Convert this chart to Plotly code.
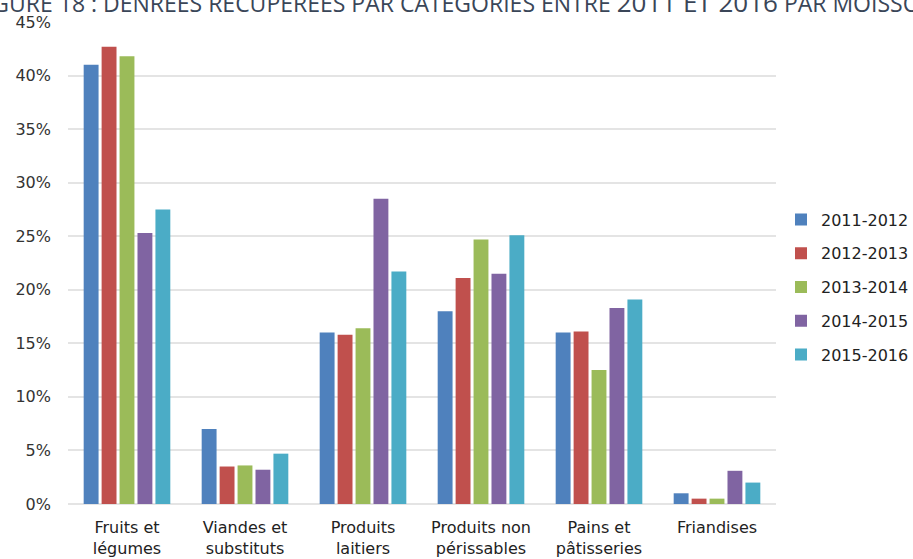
import plotly.graph_objects as go

categories = ["Fruits et<br>légumes", "Viandes et<br>substituts", "Produits<br>laitiers",
              "Produits non<br>périssables", "Pains et<br>pâtisseries", "Friandises"]
series_names = ["2011-2012", "2012-2013", "2013-2014", "2014-2015", "2015-2016"]
v_2011_2012 = [41.0, 7.0, 16.0, 18.0, 16.0, 1.0]
v_2012_2013 = [42.7, 3.5, 15.8, 21.1, 16.1, 0.5]
v_2013_2014 = [41.8, 3.6, 16.4, 24.7, 12.5, 0.5]
v_2014_2015 = [25.3, 3.2, 28.5, 21.5, 18.3, 3.1]
v_2015_2016 = [27.5, 4.7, 21.7, 25.1, 19.1, 2.0]
colors = ["#4F81BD", "#C0504D", "#9BBB59", "#8064A2", "#4BACC6"]
y_ticks = [0, 5, 10, 15, 20, 25, 30, 35, 40, 45]
y_tick_labels = [f"{t}%" for t in y_ticks]

all_values = [v_2011_2012, v_2012_2013, v_2013_2014, v_2014_2015, v_2015_2016]

fig = go.Figure()
for name, vals, col in zip(series_names, all_values, colors):
    fig.add_trace(go.Bar(
        x=categories, y=vals, name=name, marker_color=col,
        marker_line_width=0, legendgroup=name,
    ))

W, H = 913, 559
ml, mr, mt, mb = 68, 137, 22, 55

fig.update_layout(
    width=W, height=H,
    margin=dict(l=ml, r=mr, t=mt, b=mb, autoexpand=False),
    paper_bgcolor="white", plot_bgcolor="white",
    barmode="group", bargap=0.24, bargroupgap=0.17,
    font=dict(family="DejaVu Sans", size=16, color="#333333"),
    legend=dict(
        x=(781 - ml) / (W - ml - mr), xanchor="left",
        y=(504 - 287) / (504 - 22), yanchor="middle",
        font=dict(size=16, color="#222222"),
        tracegroupgap=10, bgcolor="rgba(0,0,0,0)",
    ),
    xaxis=dict(showgrid=False, showline=False, ticks="", automargin=False,
               ticklabelstandoff=12, tickfont=dict(size=16, color="#222222")),
    yaxis=dict(
        range=[0, 45], tickvals=y_ticks, ticktext=y_tick_labels,
        showgrid=True, gridcolor="#e4e4e4", gridwidth=1.5,
        zeroline=True, zerolinecolor="#e4e4e4", zerolinewidth=1.5,
        showline=False, ticks="", ticklabelstandoff=16, automargin=False,
        tickfont=dict(size=16, color="#333333"),
    ),
    showlegend=True,
)

title_text = ("FIGURE 18 : DENRÉES RÉCUPÉRÉES PAR CATÉGORIES ENTRE "
              "<span style='font-size:26px'>2011 ET 2016</span> PAR MOISSON")
fig.add_annotation(
    text=title_text, xref="paper", yref="paper",
    x=(456 - ml) / (W - ml - mr), y=1, xanchor="center", yanchor="bottom",
    yshift=0, showarrow=False,
    font=dict(family="Open Sans", size=23, color="#3a4658"),
)

fig.write_html("out.html", config={"displayModeBar": False},
               post_script="document.body.style.margin='0';document.body.style.overflow='hidden';")
